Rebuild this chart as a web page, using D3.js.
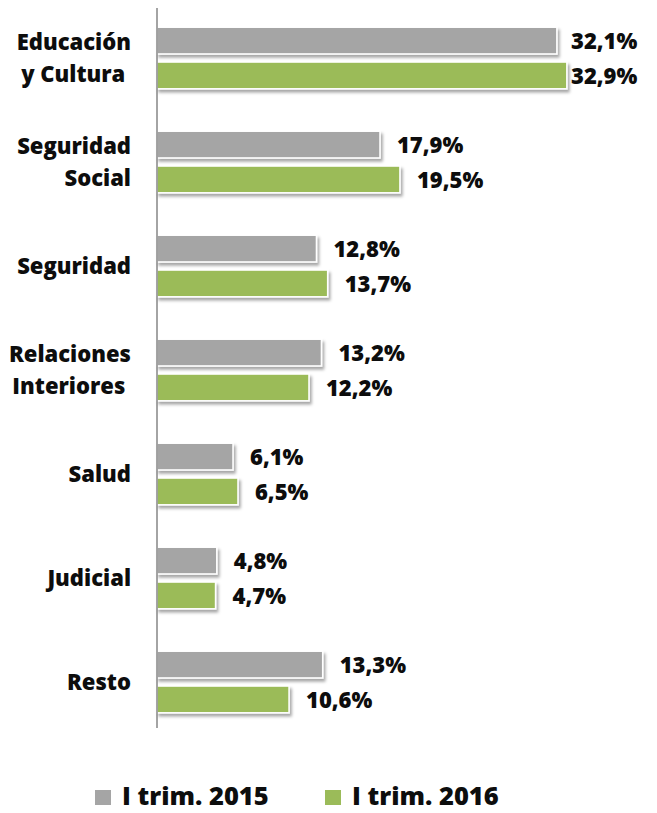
<!DOCTYPE html>
<html>
<head>
<meta charset="utf-8">
<script src="https://cdn.jsdelivr.net/npm/d3@7"></script>
<style>
  body { margin: 0; background: #fff; }
  svg text { font-family: "Open Sans", sans-serif; font-weight: 800; fill: #0d0d0d; white-space: pre; }
</style>
</head>
<body>
<div id="chart"></div>
<script>
// chart values
const categories = ["Educación\ny Cultura ", "Seguridad\nSocial", "Seguridad", "Relaciones\nInteriores ", "Salud", "Judicial", "Resto"];
const seriesNames = ["I trim. 2015", "I trim. 2016"];
const values2015 = [32.1, 17.9, 12.8, 13.2, 6.1, 4.8, 13.3];
const values2016 = [32.9, 19.5, 13.7, 12.2, 6.5, 4.7, 10.6];
const colors = ["#a5a5a5", "#9bbb59"];

const width = 657, height = 813;
const margin = { top: 6, left: 157, bottom: 86 };

const rows = categories.map((c, i) => ({ cat: c, vals: [values2015[i], values2016[i]] }));

const svg = d3.select("#chart").append("svg")
  .attr("width", width)
  .attr("height", height);

const defs = svg.append("defs");
const shadow = defs.append("filter").attr("id", "shadow")
  .attr("x", "-5%").attr("y", "-30%").attr("width", "115%").attr("height", "180%");
shadow.append("feDropShadow")
  .attr("dx", 2).attr("dy", 3).attr("stdDeviation", 1.6)
  .attr("flood-color", "#000").attr("flood-opacity", 0.35);

const xScale = d3.scaleLinear().domain([0, 35]).range([margin.left, margin.left + 436]);
const yScale = d3.scaleBand().domain(categories).range([margin.top, height - margin.bottom + 7]);
const ySub = d3.scaleBand().domain(seriesNames).range([0, yScale.bandwidth()])
  .paddingInner(0.232).paddingOuter(0.609);

const locale = d3.formatLocale({ decimal: ",", thousands: ".", grouping: [3], currency: ["", "€"] });
const fmt = v => locale.format(".1f")(v) + "%";

const groups = svg.append("g").selectAll("g.cat")
  .data(rows)
  .join("g")
  .attr("class", "cat")
  .attr("transform", d => `translate(0, ${yScale(d.cat)})`);

groups.selectAll("rect")
  .data(d => d.vals.map((v, j) => ({ v, s: seriesNames[j], j })))
  .join("rect")
  .attr("x", xScale(0))
  .attr("y", d => ySub(d.s))
  .attr("width", d => xScale(d.v) - xScale(0))
  .attr("height", ySub.bandwidth())
  .attr("fill", d => colors[d.j])
  .attr("stroke", "#fff")
  .attr("stroke-width", 1.5)
  .attr("filter", "url(#shadow)");

groups.selectAll("text.val")
  .data(d => d.vals.map((v, j) => ({ v, s: seriesNames[j], j })))
  .join("text")
  .attr("class", "val")
  .attr("x", d => Math.min(xScale(d.v) + 17, 571))
  .attr("y", d => ySub(d.s) + ySub.bandwidth() / 2)
  .attr("dy", "0.38em")
  .attr("font-size", 22)
  .text(d => fmt(d.v));

// category labels (left)
const catLabels = groups.append("text")
  .attr("text-anchor", "end")
  .attr("font-size", 22);
catLabels.selectAll("tspan")
  .data(d => { const lines = d.cat.split("\n"); return lines.map((l, k) => ({ l, k, n: lines.length })); })
  .join("tspan")
  .attr("x", margin.left - 26)
  .attr("y", d => yScale.bandwidth() / 2 + (d.k - (d.n - 1) / 2) * 32)
  .attr("dy", "0.36em")
  .text(d => d.l);

// vertical axis line
svg.append("line")
  .attr("x1", xScale(0)).attr("x2", xScale(0))
  .attr("y1", 8).attr("y2", 728)
  .attr("stroke", "#868686")
  .attr("stroke-width", 1.5);

// legend
const legend = svg.append("g").attr("transform", "translate(95, 790)");
const items = legend.selectAll("g")
  .data(seriesNames)
  .join("g")
  .attr("transform", (d, i) => `translate(${i * 230}, 0)`);
items.append("rect")
  .attr("width", 16).attr("height", 15)
  .attr("fill", (d, i) => colors[i]);
items.append("text")
  .attr("x", 27).attr("y", 15)
  .attr("font-size", 25.5)
  .text(d => d);
</script>
</body>
</html>
